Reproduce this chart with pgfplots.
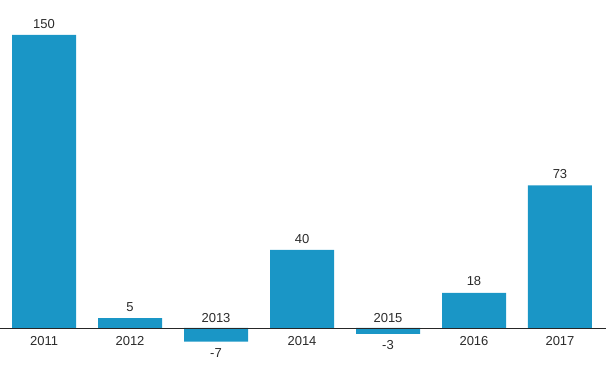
\documentclass[border=0pt]{standalone}
\usepackage{pgfplots}
\pgfplotsset{compat=1.18}
\usepackage{fontspec}
\setmainfont{Liberation Sans}
\definecolor{barblue}{HTML}{1A96C6}
\definecolor{txt}{HTML}{2A2A2A}
\begin{document}
\begin{tikzpicture}
\begin{axis}[
  scale only axis, width=606pt, height=367pt,
  xmin=-0.512, xmax=6.535, ymin=-19.97, ymax=167.9,
  axis lines=none, clip=false,
  /pgf/number format/assume math mode=true,
  every node near coord/.append style={font=\fontsize{13}{15}\selectfont, text=txt},
]
\addplot[ybar, bar width=64pt, fill=barblue, draw=none,
  nodes near coords, nodes near coords align=vertical,
  every node near coord/.append style={inner sep=6.5pt}]
  coordinates {(0,150) (1,5) (2,-7) (3,40) (4,-3) (5,18) (6,73)};
\addplot[black!85, line width=0.9pt] coordinates {(-0.512,0) (6.535,0)};
\addplot[draw=none, mark=none, nodes near coords, point meta=explicit symbolic,
  every node near coord/.append style={anchor=north, inner sep=8.5pt}]
  coordinates {(0,0)[2011] (1,0)[2012] (3,0)[2014] (5,0)[2016] (6,0)[2017]};
\addplot[draw=none, mark=none, nodes near coords, point meta=explicit symbolic,
  every node near coord/.append style={anchor=south, inner sep=5.5pt}]
  coordinates {(2,0)[2013] (4,0)[2015]};
\end{axis}
\pgfresetboundingbox
\path (0,0) rectangle (606pt,367pt);
\end{tikzpicture}
\end{document}
